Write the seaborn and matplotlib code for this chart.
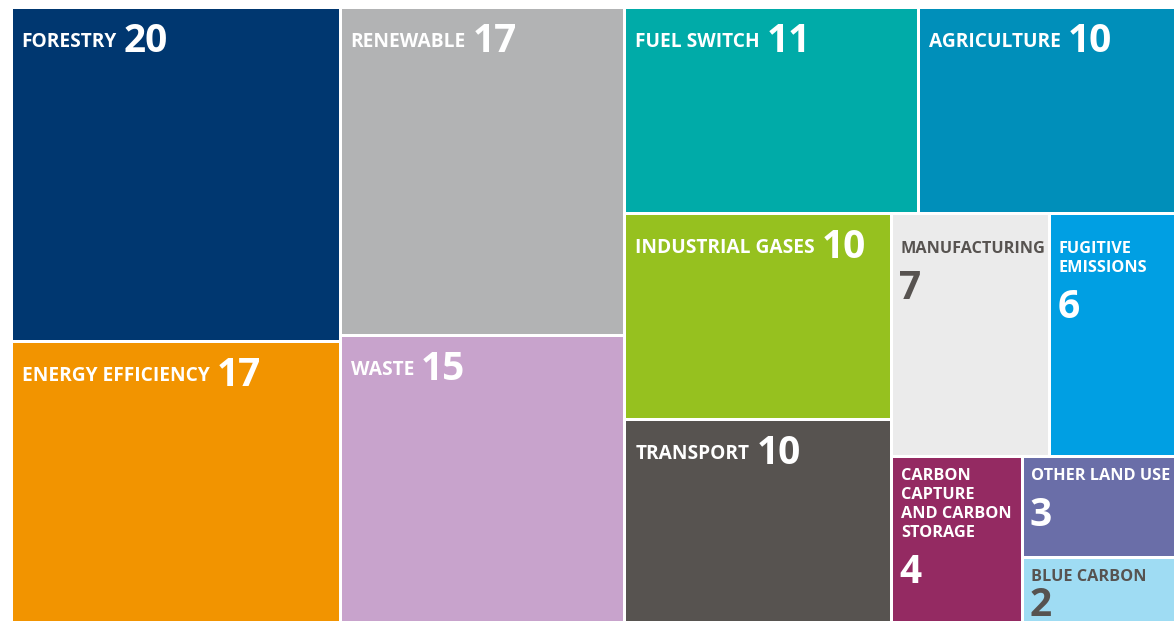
import matplotlib
matplotlib.use("Agg")
import matplotlib.pyplot as plt
import matplotlib.colors as mcolors
from matplotlib.patches import Rectangle
import seaborn as sns

sns.set_theme(style="white")
plt.rcParams['font.family'] = ['Open Sans', 'DejaVu Sans']

# data, biggest first (order matters for the squarified layout)
sectors = ['FORESTRY', 'ENERGY EFFICIENCY', 'RENEWABLE', 'WASTE', 'FUEL SWITCH',
           'AGRICULTURE', 'INDUSTRIAL GASES', 'TRANSPORT', 'MANUFACTURING',
           'FUGITIVE\nEMISSIONS', 'CARBON\nCAPTURE\nAND CARBON\nSTORAGE',
           'OTHER LAND USE', 'BLUE CARBON']
counts = [20, 17, 17, 15, 11, 10, 10, 10, 7, 6, 4, 3, 2]
colors = ['#003770', '#f29400', '#b2b3b4', '#c8a3cc', '#00aba8', '#008fba',
          '#96c11f', '#575350', '#ebebeb', '#009fe3', '#942a62', '#6a6ea8',
          '#9fdcf3']

# treemap canvas in pixels (one data unit = one pixel); the picture crops
# a little of it on the right and at the bottom
W, H = 1174.5, 617.5


# --- squarified treemap (Bruls et al.) ---
def layout(areas, x, y, dx, dy):
    rects = []
    if dx >= dy:
        w = sum(areas) / dy
        cy = y
        for a in areas:
            rects.append((x, cy, w, a / w))
            cy += a / w
    else:
        h = sum(areas) / dx
        cx = x
        for a in areas:
            rects.append((cx, y, a / h, h))
            cx += a / h
    return rects


def leftover(areas, x, y, dx, dy):
    if dx >= dy:
        w = sum(areas) / dy
        return x + w, y, dx - w, dy
    h = sum(areas) / dx
    return x, y + h, dx, dy - h


def worst(areas, x, y, dx, dy):
    return max(max(w / h, h / w) for _, _, w, h in layout(areas, x, y, dx, dy))


def squarify(areas, x, y, dx, dy):
    if len(areas) <= 1:
        return layout(areas, x, y, dx, dy) if areas else []
    i = 1
    while i < len(areas) and worst(areas[:i], x, y, dx, dy) >= worst(areas[:i + 1], x, y, dx, dy):
        i += 1
    nx, ny, ndx, ndy = leftover(areas[:i], x, y, dx, dy)
    return layout(areas[:i], x, y, dx, dy) + squarify(areas[i:], nx, ny, ndx, ndy)


total = sum(counts)
areas = [c * W * H / total for c in counts]
rects = squarify(areas, 0, 0, W, H)

fig = plt.figure(figsize=(11.74, 6.21), dpi=100)
ax = fig.add_axes([10.5 / 1174, -3.5 / 621, W / 1174, H / 621])
ax.set_xlim(0, W)
ax.set_ylim(H, 0)
ax.axis('off')

renderer = fig.canvas.get_renderer()
dark = '#575350'

for name, n, col, (x, y, w, h) in zip(sectors, counts, colors, rects):
    ax.add_patch(Rectangle((x, y), w, h, facecolor=col, edgecolor='white',
                           linewidth=2.16))
    r, g, b = mcolors.to_rgb(col)
    tc = dark if 0.2126 * r + 0.7152 * g + 0.0722 * b > 0.75 else 'white'

    lines = name.split('\n')
    inline = w > 200 and len(lines) == 1
    base = y + (40 if h > 200 else 24)
    tx = x + (11 if inline else 9.5)
    fs = 13.8 if inline else 11.7
    last = None
    for k, line in enumerate(lines):
        last = ax.text(tx, base + k * 19, line, color=tc, fontsize=fs,
                       fontweight='bold', va='baseline', ha='left', clip_on=True)
    if inline:
        bb = last.get_window_extent(renderer).transformed(ax.transData.inverted())
        ax.text(bb.x1 + 7, base + 5, str(n), color=tc, fontsize=28,
                fontweight='bold', va='baseline', ha='left', clip_on=True)
    else:
        # keep the number inside the box when it is short
        nb = min(base + (len(lines) - 1) * 19 + 46, y + h - 8)
        ax.text(tx - 1.5, nb, str(n), color=tc, fontsize=28,
                fontweight='bold', va='baseline', ha='left', clip_on=True)

fig.savefig('out.png', dpi=100)
